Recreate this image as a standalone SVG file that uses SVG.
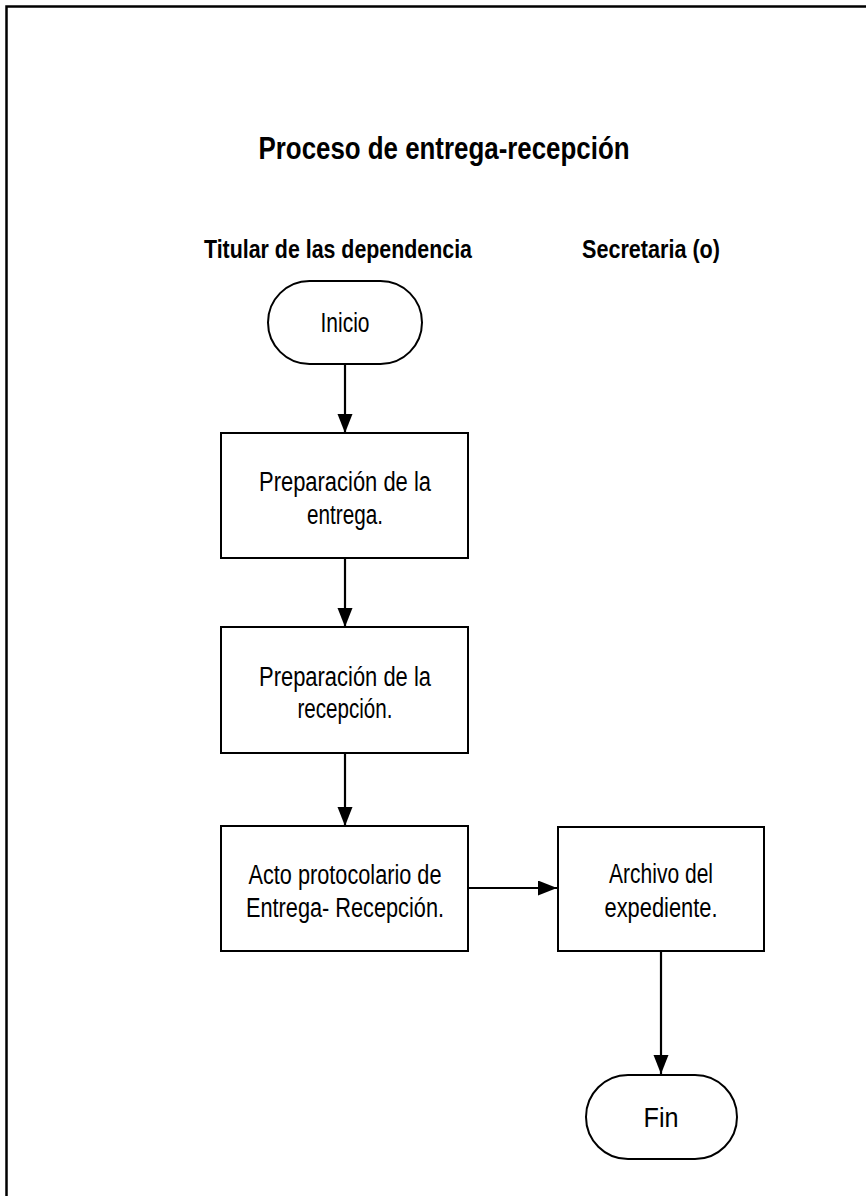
<svg xmlns="http://www.w3.org/2000/svg" width="866" height="1196" viewBox="0 0 866 1196">
<style>
.t{font-family:"Liberation Sans",Arial,sans-serif;fill:#000;text-anchor:middle}
.b{font-weight:bold}
.shape{fill:#fff;stroke:#000;stroke-width:2}
.conn{stroke:#000;stroke-width:2.2;fill:none}
</style>
<defs>
<marker id="arr" markerUnits="userSpaceOnUse" markerWidth="20" markerHeight="16" refX="19" refY="7.5" orient="auto">
<path d="M0,0 L19,7.5 L0,15 z" fill="#000"/>
</marker>
</defs>
<rect x="0" y="0" width="866" height="1196" fill="#fff"/>
<rect x="6.5" y="6.5" width="880" height="1210" fill="none" stroke="#000" stroke-width="2.5"/>
<text class="t b" x="444" y="159" font-size="31" textLength="371" lengthAdjust="spacingAndGlyphs">Proceso de entrega-recepción</text>
<text class="t b" x="338" y="258" font-size="25" textLength="268" lengthAdjust="spacingAndGlyphs">Titular de las dependencia</text>
<text class="t b" x="651" y="258" font-size="25" textLength="138" lengthAdjust="spacingAndGlyphs">Secretaria (o)</text>
<g id="connectors">
<line class="conn" x1="345" y1="364" x2="345" y2="433" marker-end="url(#arr)"/>
<line class="conn" x1="345" y1="558" x2="345" y2="627" marker-end="url(#arr)"/>
<line class="conn" x1="345" y1="753" x2="345" y2="826" marker-end="url(#arr)"/>
<line class="conn" x1="468" y1="888" x2="557" y2="888" marker-end="url(#arr)"/>
<line class="conn" x1="661" y1="951" x2="661" y2="1074" marker-end="url(#arr)"/>
</g>
<g id="inicio">
<rect class="shape" x="268" y="281" width="154" height="83" rx="41.5" ry="41.5"/>
<text class="t" x="345" y="332" font-size="27" textLength="49" lengthAdjust="spacingAndGlyphs">Inicio</text>
</g>
<g id="prep-entrega">
<rect class="shape" x="221" y="433" width="247" height="125"/>
<text class="t" x="345" y="491" font-size="27" textLength="172" lengthAdjust="spacingAndGlyphs">Preparación de la</text>
<text class="t" x="345" y="524" font-size="27" textLength="76" lengthAdjust="spacingAndGlyphs">entrega.</text>
</g>
<g id="prep-recepcion">
<rect class="shape" x="221" y="627" width="247" height="126"/>
<text class="t" x="345" y="686" font-size="27" textLength="172" lengthAdjust="spacingAndGlyphs">Preparación de la</text>
<text class="t" x="345" y="718" font-size="27" textLength="95" lengthAdjust="spacingAndGlyphs">recepción.</text>
</g>
<g id="acto">
<rect class="shape" x="221" y="826" width="247" height="125"/>
<text class="t" x="345" y="884" font-size="27" textLength="193" lengthAdjust="spacingAndGlyphs">Acto protocolario de</text>
<text class="t" x="345" y="917" font-size="27" textLength="198" lengthAdjust="spacingAndGlyphs">Entrega- Recepción.</text>
</g>
<g id="archivo">
<rect class="shape" x="558" y="827" width="206" height="124"/>
<text class="t" x="661" y="883" font-size="27" textLength="104" lengthAdjust="spacingAndGlyphs">Archivo del</text>
<text class="t" x="661" y="917" font-size="27" textLength="113" lengthAdjust="spacingAndGlyphs">expediente.</text>
</g>
<g id="fin">
<rect class="shape" x="586" y="1075" width="151" height="84" rx="42" ry="42"/>
<text class="t" x="661" y="1127" font-size="27" textLength="35" lengthAdjust="spacingAndGlyphs">Fin</text>
</g>
</svg>
